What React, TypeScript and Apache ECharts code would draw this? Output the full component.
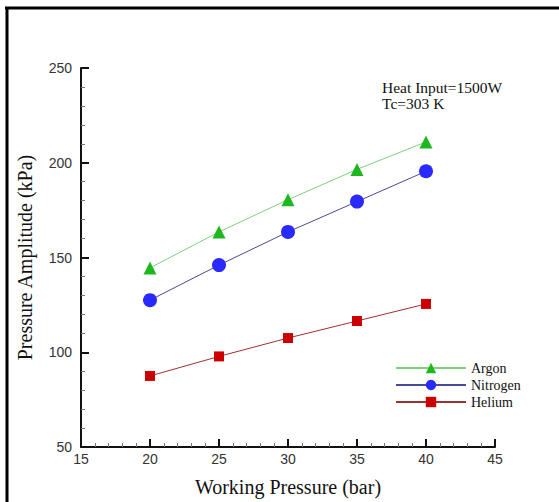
import React, { useEffect, useRef } from "react";
import * as echarts from "echarts";

const pressures = [20, 25, 30, 35, 40];
const argon = [144.5, 163.5, 180.5, 196.5, 211];
const nitrogen = [127.5, 146, 163.5, 179.5, 195.5];
const helium = [87.5, 97.8, 107.5, 116.5, 125.5];
const annotation = ["Heat Input=1500W", "Tc=303 K"];

const pair = (ys: number[]) => pressures.map((x, i) => [x, ys[i]]);

export default function App() {
  const ref = useRef<HTMLDivElement>(null);
  useEffect(() => {
    const chart = echarts.init(ref.current!, null, { renderer: "svg" });
    const serif = "'Liberation Serif', 'Times New Roman', serif";
    const sans = "'Liberation Sans', Arial, sans-serif";
    chart.setOption({
      animation: false,
      backgroundColor: "#ffffff",
      grid: { left: 81, top: 68, right: 64, bottom: 54 },
      legend: {
        orient: "vertical",
        left: 390,
        top: 356,
        itemWidth: 70,
        itemHeight: 13,
        itemGap: 3,
        textStyle: { fontFamily: serif, fontSize: 14, color: "#111", lineHeight: 14 },
        data: ["Argon", "Nitrogen", "Helium"],
      },
      xAxis: {
        type: "value",
        min: 15,
        max: 45,
        interval: 5,
        name: "Working Pressure (bar)",
        nameLocation: "middle",
        nameGap: 30,
        nameTextStyle: { fontFamily: serif, fontSize: 20, color: "#111" },
        axisLine: { lineStyle: { color: "#111", width: 2 } },
        axisTick: { inside: true, length: 8, lineStyle: { color: "#111", width: 2 } },
        minorTick: { show: true, splitNumber: 5, length: 4, lineStyle: { color: "#777", width: 1 } },
        axisLabel: { fontFamily: sans, fontSize: 14, color: "#333", margin: 5 },
        splitLine: { show: false },
      },
      yAxis: {
        type: "value",
        min: 50,
        max: 250,
        interval: 50,
        name: "Pressure Amplitude (kPa)",
        nameLocation: "middle",
        nameGap: 46,
        nameTextStyle: { fontFamily: serif, fontSize: 20, color: "#111" },
        axisLine: { show: true, lineStyle: { color: "#111", width: 2 } },
        axisTick: { show: true, inside: true, length: 8, lineStyle: { color: "#111", width: 2 } },
        minorTick: { show: true, splitNumber: 5, length: 4, lineStyle: { color: "#777", width: 1 } },
        axisLabel: { fontFamily: sans, fontSize: 14, color: "#333", margin: 9 },
        splitLine: { show: false },
      },
      graphic: [
        { type: "line", shape: { x1: 5, y1: 8, x2: 559, y2: 8 }, style: { stroke: "#000", lineWidth: 3 } },
        { type: "line", shape: { x1: 7, y1: 7, x2: 7, y2: 502 }, style: { stroke: "#000", lineWidth: 3 } },
        {
          type: "text",
          left: 382,
          top: 79,
          style: {
            text: annotation.join("\n"),
            fontFamily: serif,
            fontSize: 15.5,
            lineHeight: 16,
            fill: "#111",
          },
        },
      ],
      series: [
        {
          name: "Argon",
          type: "line",
          data: pair(argon),
          symbol: "triangle",
          symbolSize: 13,
          itemStyle: { color: "#1db81d" },
          lineStyle: { color: "#7fd07f", width: 1 },
        },
        {
          name: "Nitrogen",
          type: "line",
          data: pair(nitrogen),
          symbol: "circle",
          symbolSize: 14,
          itemStyle: { color: "#2a2aff" },
          lineStyle: { color: "#4a4a9a", width: 1 },
        },
        {
          name: "Helium",
          type: "line",
          data: pair(helium),
          symbol: "rect",
          symbolSize: 10,
          itemStyle: { color: "#cc0000" },
          lineStyle: { color: "#a03030", width: 1 },
        },
      ],
    });
    return () => chart.dispose();
  }, []);
  return <div ref={ref} style={{ width: 559, height: 502, position: "absolute", left: 0, top: 0 }} />;
}
